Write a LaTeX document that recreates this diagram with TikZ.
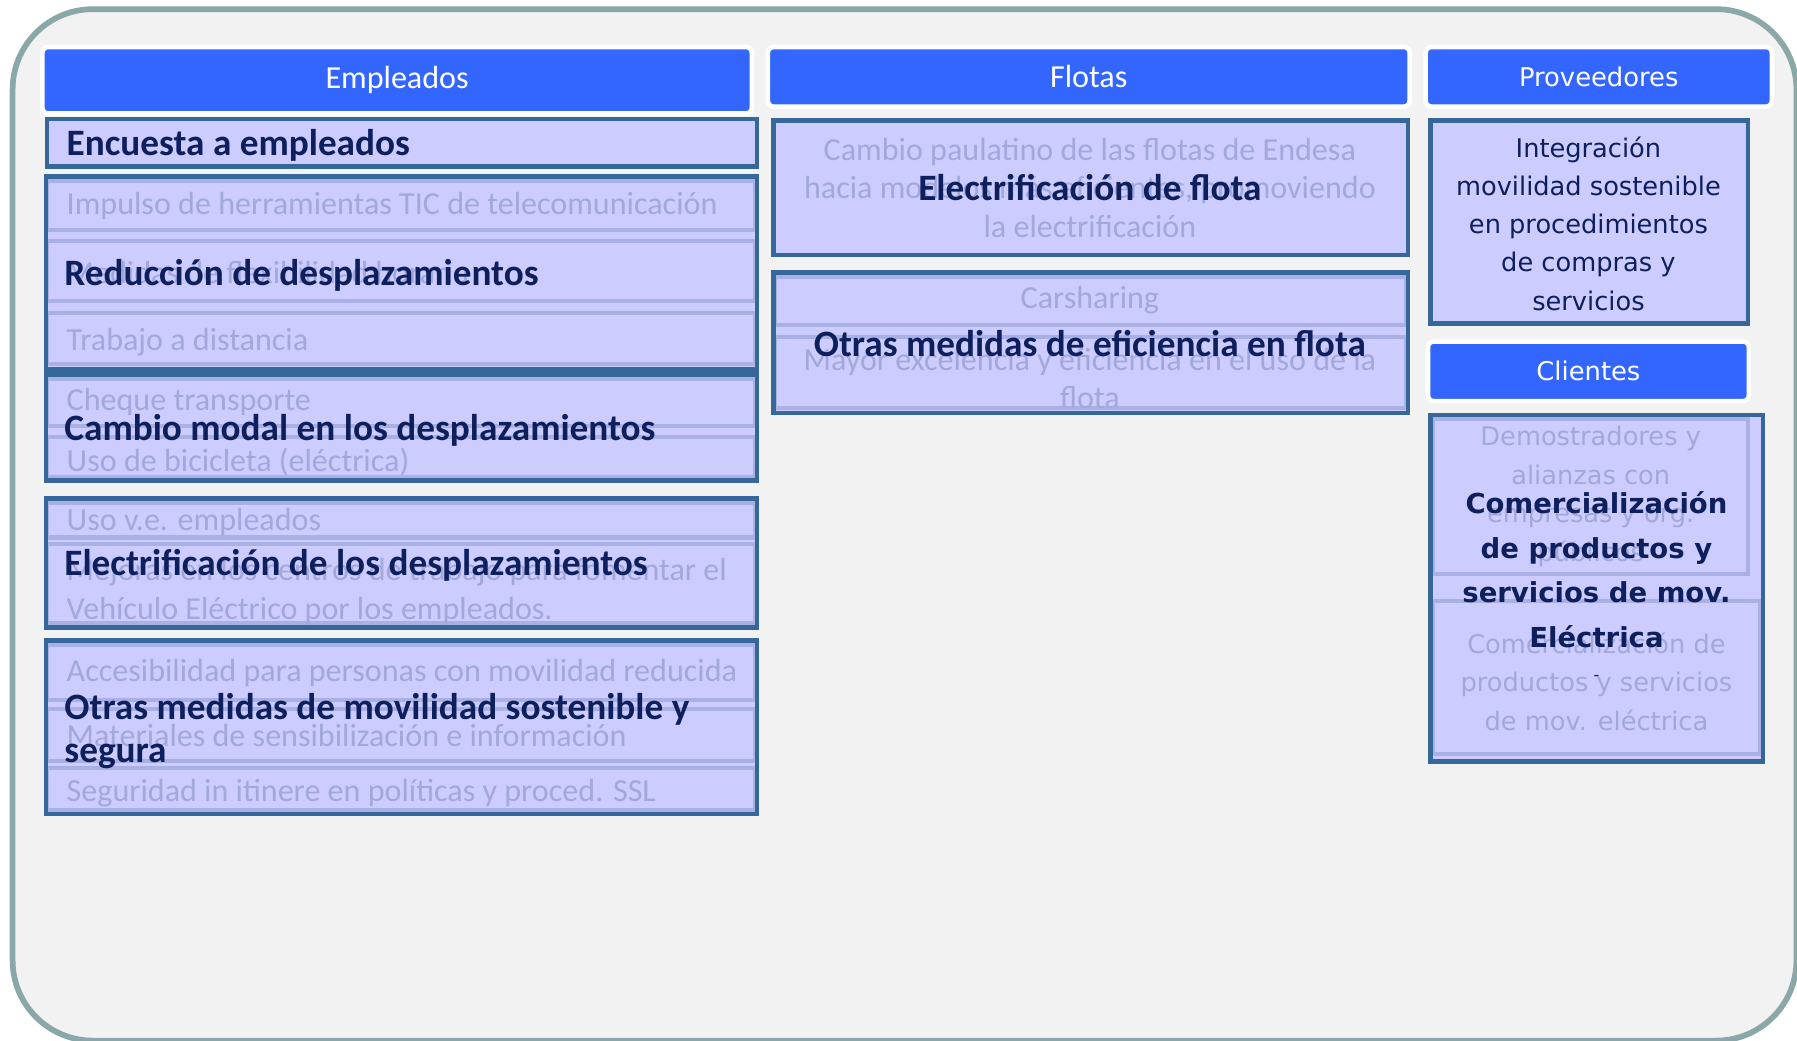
\documentclass[tikz,border=0pt]{standalone}
\usepackage{fontspec}
\setmainfont{Carlito}
\newfontfamily\verdfont{DejaVu Sans}
\usepackage{xcolor}
\usetikzlibrary{positioning}

\definecolor{hdrblue}{HTML}{3366FF}
\definecolor{boxline}{HTML}{35679A}
\definecolor{boxfill}{HTML}{CCCCFF}
\definecolor{subline}{HTML}{A9B1E4}
\definecolor{fadetxt}{HTML}{A2A8DA}
\definecolor{navy}{HTML}{0E1F5E}
\definecolor{framecol}{HTML}{8BA8A8}
\definecolor{canvas}{HTML}{F2F2F2}

\begin{document}
\begin{tikzpicture}[x=1pt, y=-1pt,
    hdr/.style={rectangle, fill=hdrblue, draw=white, line width=4pt, rounded corners=5pt, text=white, inner sep=0pt, anchor=north west, font=\fontsize{28}{33}\selectfont},
    hdrv/.style={hdr, font=\verdfont\fontsize{22.5}{27}\selectfont},
    mainbox/.style={rectangle, fill=boxfill, inner sep=0pt, anchor=north west},
    boxedge/.style={draw=boxline, line width=4pt},
    subbox/.style={draw=subline, line width=3.5pt},
    faded/.style={text=fadetxt, inner sep=0pt, font=\fontsize{28}{33.5}\selectfont, text height=22pt, text depth=3pt},
    fadedblock/.style={text=fadetxt, inner sep=0pt, align=center, font=\fontsize{28}{33.5}\selectfont},
    fadedv/.style={text=fadetxt, inner sep=0pt, align=center, font=\verdfont\fontsize{22.4}{33.6}\selectfont},
    strong/.style={text=navy, inner sep=0pt, font=\bfseries\fontsize{32.5}{38}\selectfont, text height=24pt, text depth=2pt},
    strongblock/.style={text=navy, inner sep=0pt, align=left, font=\bfseries\fontsize{32.5}{38}\selectfont},
    plainv/.style={text=navy, inner sep=0pt, align=center, font=\verdfont\fontsize{22.4}{33.4}\selectfont},
    strongv/.style={text=navy, inner sep=0pt, align=center, font=\verdfont\bfseries\fontsize{24}{39}\selectfont}
]
\useasboundingbox (0,0) rectangle (1568,908);

% Panel
\node[draw=framecol, fill=canvas, line width=5pt, rounded corners=70pt, minimum width=1556.5pt, minimum height=900pt, inner sep=0pt, anchor=north west] (panel) at (8.5,5.5) {};

% Column headers
\node[hdr, minimum width=619pt, minimum height=58pt] (hEmp) at (35,39) {Empleados};
\node[hdr, minimum width=560pt, minimum height=52pt] (hFlo) at (668,39) {Flotas};
\node[hdrv, minimum width=302pt, minimum height=52pt] (hPro) at (1242,39) {Proveedores};
\node[hdrv, minimum width=280pt, minimum height=52pt] (hCli) at (1244,296) {Clientes};

% Boxes (fill)
\node[mainbox, minimum width=619pt, minimum height=41pt] (encuesta) at (41,104) {};
\node[mainbox, minimum width=620pt, minimum height=168pt] (reduccion) at (40,154) {};
\node[mainbox, minimum width=620pt, minimum height=92pt] (cambio) at (40,327) {};
\node[mainbox, minimum width=620pt, minimum height=112pt] (electrif) at (40,435) {};
\node[mainbox, minimum width=620pt, minimum height=151pt] (otras) at (40,559) {};
\node[mainbox, minimum width=553pt, minimum height=117pt] (flota1) at (675,105) {};
\node[mainbox, minimum width=553pt, minimum height=122pt] (flota2) at (675,238) {};
\node[mainbox, minimum width=277pt, minimum height=177pt] (prov) at (1248,105) {};
\node[mainbox, minimum width=290pt, minimum height=302pt] (cli) at (1248,362) {};

% Inner measure boxes
\draw[subbox] (41,158) rectangle (659,201);
\draw[subbox] (41,210) rectangle (659,263);
\draw[subbox] (41,273) rectangle (659,318);
\draw[subbox] (41,331) rectangle (659,372);
\draw[subbox] (41,381) rectangle (659,416);
\draw[subbox] (41,439) rectangle (659,469);
\draw[subbox] (41,475) rectangle (659,544);
\draw[subbox] (41,563) rectangle (659,611);
\draw[subbox] (41,619) rectangle (659,664);
\draw[subbox] (41,670) rectangle (659,707);
\draw[subbox] (676,242) rectangle (1227,284);
\draw[subbox] (676,294) rectangle (1227,356);
\draw[subbox] (1250,366) rectangle (1525,501);
\draw[subbox] (1250,524) rectangle (1536,658);

% Box borders
\foreach \b in {encuesta, reduccion, cambio, electrif, otras, flota1, flota2, prov, cli}
  \draw[boxedge] (\b.north west) rectangle (\b.south east);

% Empleados - measures
\node[faded, anchor=west] (tic) at (58,178) {Impulso de herramientas TIC de telecomunicación};
\node[faded, anchor=west] (flex) at (58,238) {Medidas de flexibilidad horaria};
\node[faded, anchor=west] (dist) at (58,296) {Trabajo a distancia};
\node[faded, anchor=west] (cheque) at (58,349) {Cheque transporte};
\node[faded, anchor=west] (bici) at (58,402) {Uso de bicicleta (eléctrica)};
\node[faded, anchor=west] (uso) at (58,453) {Uso v.e. empleados};
\node[faded, anchor=west] (mej1) at (58,497) {Mejoras en los centros de trabajo para fomentar el};
\node[faded, anchor=west] (mej2) at (58,531) {Vehículo Eléctrico por los empleados.};
\node[faded, anchor=west] (acc) at (58,585) {Accesibilidad para personas con movilidad reducida};
\node[faded, anchor=west] (mat) at (58,642) {Materiales de sensibilización e información};
\node[faded, anchor=west] (seg) at (58,690) {Seguridad in itinere en políticas y proced. SSL};

% Empleados - titles
\node[strong, anchor=west] (tEnc) at (58,125) {Encuesta a empleados};
\node[strong, anchor=west] (tRed) at (56,238) {Reducción de desplazamientos};
\node[strong, anchor=west] (tCam) at (56,373) {Cambio modal en los desplazamientos};
\node[strong, anchor=west] (tEle) at (56,491) {Electrificación de los desplazamientos};
\node[strongblock, anchor=west] (tOtr) at (56,638) {Otras medidas de movilidad sostenible y\\segura};

% Flotas
\node[fadedblock] (paulat) at (951,164) {Cambio paulatino de las flotas de Endesa\\hacia modelos más eficientes, promoviendo\\la electrificación};
\node[faded] (cars) at (951,260) {Carsharing};
\node[fadedblock] (mayor) at (951,330) {Mayor excelencia y eficiencia en el uso de la\\flota};
\node[strong] (tFl1) at (951,164) {Electrificación de flota};
\node[strong] (tFl2) at (951,300) {Otras medidas de eficiencia en flota};

% Proveedores
\node[plainv] (integ) at (1386,195) {Integración\\movilidad sostenible\\en procedimientos\\de compras y\\servicios};

% Clientes
\node[fadedv] (demo) at (1388,433) {Demostradores y\\alianzas con\\empresas y org.\\públicos};
\node[fadedv] (comfad) at (1393,595) {Comercialización de\\productos y servicios\\de mov. eléctrica};
\node[text=navy, inner sep=0pt, font=\verdfont\fontsize{14}{16}\selectfont] (dash) at (1393,592) {-};
\node[strongv] (tCom) at (1393,497) {Comercialización\\de productos y\\servicios de mov.\\Eléctrica};

\end{tikzpicture}
\end{document}
